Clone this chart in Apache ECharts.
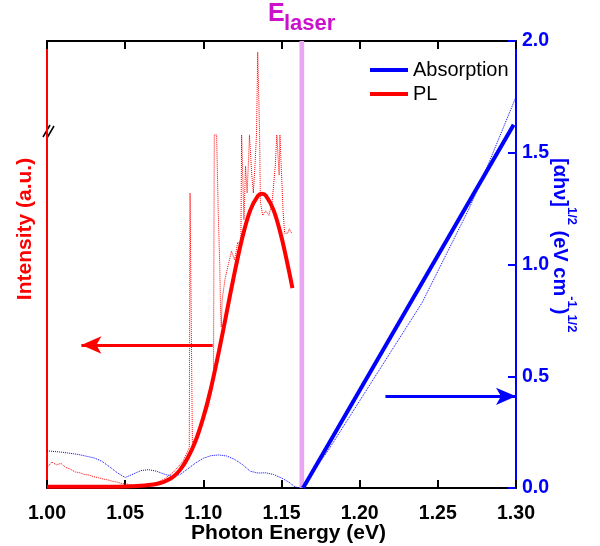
<!DOCTYPE html>
<html><head><meta charset="utf-8">
<script src="https://cdn.jsdelivr.net/npm/echarts@6/dist/echarts.min.js"></script>
<style>html,body{margin:0;padding:0;background:#fff}#c{width:600px;height:546px}</style>
</head><body><div id="c"></div>
<script>
// ---- data ----
const xMin = 1.00, xMax = 1.30, xStep = 0.05;
const rightMin = 0, rightMax = 2.0, rightStep = 0.5;
const leftMin = 0, leftMax = 100;

// PL fit (thick red), left axis arbitrary units
const plFitEnergy = [1.000,1.020,1.040,1.050,1.060,1.065,1.070,1.075,1.080,1.085,1.090,1.095,1.100,1.105,1.110,1.115,1.120,1.125,1.130,1.135,1.1375,1.140,1.145,1.150,1.155,1.157];
const plFitIntensity = [0.3,0.3,0.3,0.35,0.5,0.65,0.9,1.4,2.3,4.0,6.7,10.5,15.8,22.5,30.6,39.4,48.2,56.1,62.1,65.4,65.8,65.4,62.1,56.1,48.2,44.7];

// PL measured (dotted red)
const plDataEnergy = [1.000,1.003,1.006,1.009,1.012,1.015,1.018,1.021,1.024,1.027,1.030,1.033,1.036,1.039,1.042,1.045,1.048,1.051,1.054,1.057,1.060,1.063,1.066,1.069,1.072,1.075,1.078,1.081,1.084,1.087,1.089,1.091,1.0915,1.0925,1.093,1.095,1.097,1.099,1.101,1.103,1.105,1.1065,1.107,1.1085,1.1095,1.110,1.1105,1.111,1.1115,1.112,1.114,1.116,1.118,1.120,1.122,1.124,1.1245,1.1255,1.126,1.127,1.128,1.129,1.1295,1.1305,1.131,1.132,1.133,1.134,1.1348,1.1356,1.136,1.1365,1.138,1.140,1.142,1.144,1.145,1.146,1.147,1.148,1.1485,1.149,1.150,1.151,1.152,1.154,1.155,1.1565];
const plDataIntensity = [4.5,5.8,5.2,5.5,4.6,4.2,3.6,3.4,3.0,2.9,2.5,2.3,2.0,1.8,1.5,1.3,1.0,0.9,0.7,0.6,0.6,0.7,0.8,1.1,1.5,2.0,2.8,3.6,4.8,6.0,7.5,9.0,66,66,10,11,12,14,16,18,21,24,79,79,62,56,50,40,36,42,47,50,53,51,55,54,79,79,60,72,66,74,79,79,70,66,72,79,97.5,97.5,79,64,61,62,61,64,68,72,79,79,70,79,79,62,57,57,58,57];

// Absorption measured (dotted blue), right axis
const absDataEnergy = [1.000,1.010,1.020,1.030,1.035,1.040,1.045,1.050,1.055,1.060,1.065,1.070,1.075,1.080,1.085,1.090,1.095,1.100,1.105,1.110,1.115,1.120,1.125,1.130,1.135,1.140,1.145,1.150,1.155,1.158,1.160,1.162,1.165,1.170,1.180,1.190,1.200,1.210,1.220,1.230,1.240,1.250,1.260,1.270,1.280,1.290,1.300];
const absDataValue = [0.166,0.160,0.150,0.135,0.120,0.095,0.068,0.047,0.062,0.078,0.082,0.075,0.062,0.052,0.060,0.085,0.112,0.133,0.145,0.148,0.143,0.128,0.105,0.075,0.067,0.068,0.060,0.045,0.025,0.008,0.002,0.0,0.02,0.07,0.17,0.28,0.39,0.50,0.61,0.72,0.83,0.97,1.11,1.25,1.41,1.58,1.75];

// Absorption linear fit (thick blue)
const absFitEnergy = [1.1638, 1.2985];
const absFitValue = [0.0, 1.625];

// E_laser band
const laserBand = [1.1615, 1.1645];

// arrows (annotation)
const plArrow = {from: [1.106, 32], to: [1.022, 32]};
const absArrow = {from: [1.2165, 0.41], to: [1.300, 0.41]};

const zip = (a, b) => a.map((v, i) => [v, b[i]]);
const FONT = 'Liberation Sans, Arial, sans-serif';
const RED = '#ff0000', BLUE = '#0000ff', MAG = '#cc11cc';

const chart = echarts.init(document.getElementById('c'), null, {renderer: 'canvas'});
chart.setOption({
  animation: false,
  backgroundColor: '#fff',
  grid: {left: 47, right: 84, top: 41, bottom: 58, containLabel: false, outerBoundsMode: 'none'},
  legend: {
    data: ['Absorption', 'PL'],
    orient: 'vertical', left: 365, top: 55,
    icon: 'rect', itemWidth: 38, itemHeight: 4, itemGap: 4,
    textStyle: {fontFamily: FONT, fontSize: 20, color: '#000'}
  },
  xAxis: [{
    type: 'value', min: xMin, max: xMax, interval: xStep, position: 'bottom',
    name: 'Photon Energy (eV)', nameLocation: 'middle', nameGap: 35, nameMoveOverlap: false,
    nameTextStyle: {fontFamily: FONT, fontSize: 21, fontWeight: 'bold', color: '#000', padding: [0, 0, 0, 14]},
    axisLine: {show: true, onZero: false, lineStyle: {color: '#000', width: 2}},
    axisTick: {show: true, inside: true, length: 8, lineStyle: {color: '#000', width: 2}},
    axisLabel: {fontFamily: FONT, fontSize: 19.5, fontWeight: 'bold', color: '#000', margin: 16,
      formatter: v => v.toFixed(2)},
    splitLine: {show: false}
  }, {
    type: 'value', min: xMin, max: xMax, interval: xStep, position: 'top',
    axisLine: {show: true, onZero: false, lineStyle: {color: '#000', width: 2}},
    axisTick: {show: true, inside: true, length: 8, lineStyle: {color: '#000', width: 2}},
    axisLabel: {show: false}, splitLine: {show: false}
  }],
  yAxis: [{
    type: 'value', min: leftMin, max: leftMax, position: 'left',
    axisLine: {show: true, onZero: false, lineStyle: {color: RED, width: 2}},
    axisTick: {show: false}, axisLabel: {show: false}, splitLine: {show: false}
  }, {
    type: 'value', min: rightMin, max: rightMax, interval: rightStep, position: 'right',
    axisLine: {show: true, onZero: false, lineStyle: {color: BLUE, width: 2}},
    axisTick: {show: true, inside: true, length: 8, lineStyle: {color: BLUE, width: 2}},
    axisLabel: {fontFamily: FONT, fontSize: 19.5, fontWeight: 'bold', color: BLUE, margin: 6,
      formatter: v => v.toFixed(1)},
    splitLine: {show: false}
  }],
  series: [{
    name: 'Absorption data', type: 'line', xAxisIndex: 0, yAxisIndex: 1,
    data: zip(absDataEnergy, absDataValue), showSymbol: false, silent: true,
    lineStyle: {color: BLUE, width: 1, type: 'dotted'}, z: 2,
    markArea: {silent: true, itemStyle: {color: '#eaa6f4'},
      data: [[{xAxis: laserBand[0]}, {xAxis: laserBand[1]}]]}
  }, {
    name: 'PL data', type: 'line', xAxisIndex: 0, yAxisIndex: 0,
    data: zip(plDataEnergy, plDataIntensity), showSymbol: false, silent: true,
    lineStyle: {color: RED, width: 1, type: 'dotted'}, z: 3
  }, {
    name: 'PL', type: 'line', xAxisIndex: 0, yAxisIndex: 0, color: RED,
    data: zip(plFitEnergy, plFitIntensity), showSymbol: false, silent: true, smooth: 0.3,
    lineStyle: {color: RED, width: 4}, z: 4,
    markLine: {silent: true, symbol: ['none', 'arrow'], symbolSize: [13, 20], label: {show: false},
      lineStyle: {color: RED, width: 3, type: 'solid'},
      data: [[{coord: plArrow.from}, {coord: plArrow.to}]]}
  }, {
    name: 'Absorption', type: 'line', xAxisIndex: 0, yAxisIndex: 1, color: BLUE,
    data: zip(absFitEnergy, absFitValue), showSymbol: false, silent: true,
    lineStyle: {color: BLUE, width: 4}, z: 5,
    markLine: {silent: true, symbol: ['none', 'arrow'], symbolSize: [13, 20], label: {show: false},
      lineStyle: {color: BLUE, width: 3, type: 'solid'},
      data: [[{coord: absArrow.from}, {coord: absArrow.to}]]}
  }],
  graphic: [{
    type: 'text', x: 268, y: 27, silent: true,
    style: {text: 'E', align: 'left', verticalAlign: 'bottom',
      fontFamily: FONT, fontSize: 25, fontWeight: 'bold', fill: MAG}
  }, {
    type: 'text', x: 284, y: 35, silent: true,
    style: {text: 'laser', align: 'left', verticalAlign: 'bottom',
      fontFamily: FONT, fontSize: 22, fontWeight: 'bold', fill: MAG}
  }, {
    type: 'text', x: 25, y: 229, rotation: Math.PI / 2, silent: true,
    style: {text: 'Intensity (a.u.)', align: 'center', verticalAlign: 'middle',
      fontFamily: FONT, fontSize: 21, fontWeight: 'bold', fill: RED}
  }, {
    type: 'text', x: 560, y: 158, rotation: -Math.PI / 2, silent: true,
    style: {
      text: '{m|[αhν]}{s|1/2}{m| (eV cm}{t|-1}{m|)}{s|1/2}', align: 'left', verticalAlign: 'middle',
      rich: {
        m: {fontFamily: FONT, fontSize: 20, fontWeight: 'bold', fill: BLUE, lineHeight: 36},
        s: {fontFamily: FONT, fontSize: 13, fontWeight: 'bold', fill: BLUE, lineHeight: 13, verticalAlign: 'top'},
        t: {fontFamily: FONT, fontSize: 13, fontWeight: 'bold', fill: BLUE, lineHeight: 26, verticalAlign: 'top'}
      }
    }
  }, {
    type: 'line', silent: true, shape: {x1: 43, y1: 137, x2: 50, y2: 125},
    style: {stroke: '#000', lineWidth: 1.5}
  }, {
    type: 'line', silent: true, shape: {x1: 47, y1: 138, x2: 54, y2: 126},
    style: {stroke: '#000', lineWidth: 1.5}
  }]
});
</script>
</body></html>
